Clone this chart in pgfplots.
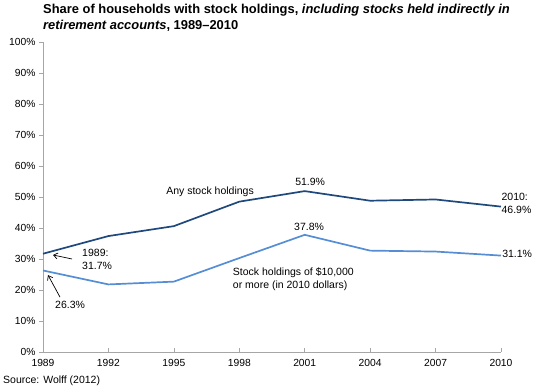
\documentclass[border=0pt]{standalone}
\usepackage{pgfplots}
\pgfplotsset{compat=1.18}
\usetikzlibrary{arrows.meta}
\usepackage{fontspec}
\setmainfont{Liberation Sans}
\definecolor{darkb}{HTML}{1F497D}
\definecolor{lightb}{HTML}{558ED5}
\definecolor{axgray}{HTML}{A6A6A6}
\begin{document}
\begin{tikzpicture}
\path[use as bounding box] (-43pt,-36pt) rectangle (493pt,352pt);
\begin{axis}[
  at={(0pt,0pt)}, anchor=south west,
  scale only axis, width=458pt, height=310pt,
  xmin=1989, xmax=2010, ymin=0, ymax=100,
  axis x line*=bottom, axis y line*=left,
  axis line style={axgray, line width=0.6pt},
  xtick={1989,1992,1995,1998,2001,2004,2007,2010},
  ytick={0,10,...,100},
  yticklabel={\pgfmathprintnumber{\tick}\%},
  /pgf/number format/assume math mode=true,
  /pgf/number format/1000 sep={},
  tick label style={font=\fontsize{10.3}{12}\selectfont, black},
  tick align=outside,
  major tick length=4pt,
  tick style={axgray, line width=0.6pt},
  xtick style={yshift=4pt},
  clip=false,
]
\addplot[darkb, line width=1.7pt] coordinates {
 (1989,31.7) (1992,37.4) (1995,40.6) (1998,48.5) (2001,51.9) (2004,48.8) (2007,49.2) (2010,46.9)};
\addplot[lightb, line width=1.7pt] coordinates {
 (1989,26.3) (1992,21.8) (1995,22.7) (1998,30.3) (2001,37.8) (2004,32.7) (2007,32.4) (2010,31.1)};
\begin{scope}[every node/.style={font=\fontsize{10.5}{13}\selectfont, inner sep=0pt}]
\node at (axis cs:1996.66,51.6) {Any stock holdings};
\node at (axis cs:2001.25,54.8) {51.9\%};
\node[anchor=west, align=left] at (axis cs:2010.02,47.9) {2010:\\46.9\%};
\node at (axis cs:2001.2,40.3) {37.8\%};
\node[anchor=west] at (axis cs:2010.05,31.6) {31.1\%};
\node[anchor=west, align=left] at (axis cs:1997.7,23.4) {Stock holdings of \$10,000\\or more (in 2010 dollars)};
\node[anchor=west, align=left] at (axis cs:1990.79,30.0) {1989:\\31.7\%};
\node[anchor=west] at (axis cs:1989.55,15.2) {26.3\%};
\end{scope}
\draw[-{Straight Barb[length=4pt,width=6pt]}, line width=0.7pt] (axis cs:1990.33,30.0) -- (axis cs:1989.46,31.3);
\draw[-{Straight Barb[length=4pt,width=6pt]}, line width=0.7pt] (axis cs:1989.78,17.7) -- (axis cs:1989.23,24.8);
\end{axis}
\node[anchor=north west, align=left, inner sep=0pt, font=\bfseries\fontsize{12.9}{16}\selectfont] at (0pt,348pt)
 {Share of households with stock holdings, \textit{including stocks held indirectly in}\\\textit{retirement accounts}, 1989--2010};
\node[anchor=west, inner sep=0pt, font=\fontsize{10.5}{12}\selectfont] at (-40pt,-29pt) {Source: Wolff (2012)};
\end{tikzpicture}
\end{document}
